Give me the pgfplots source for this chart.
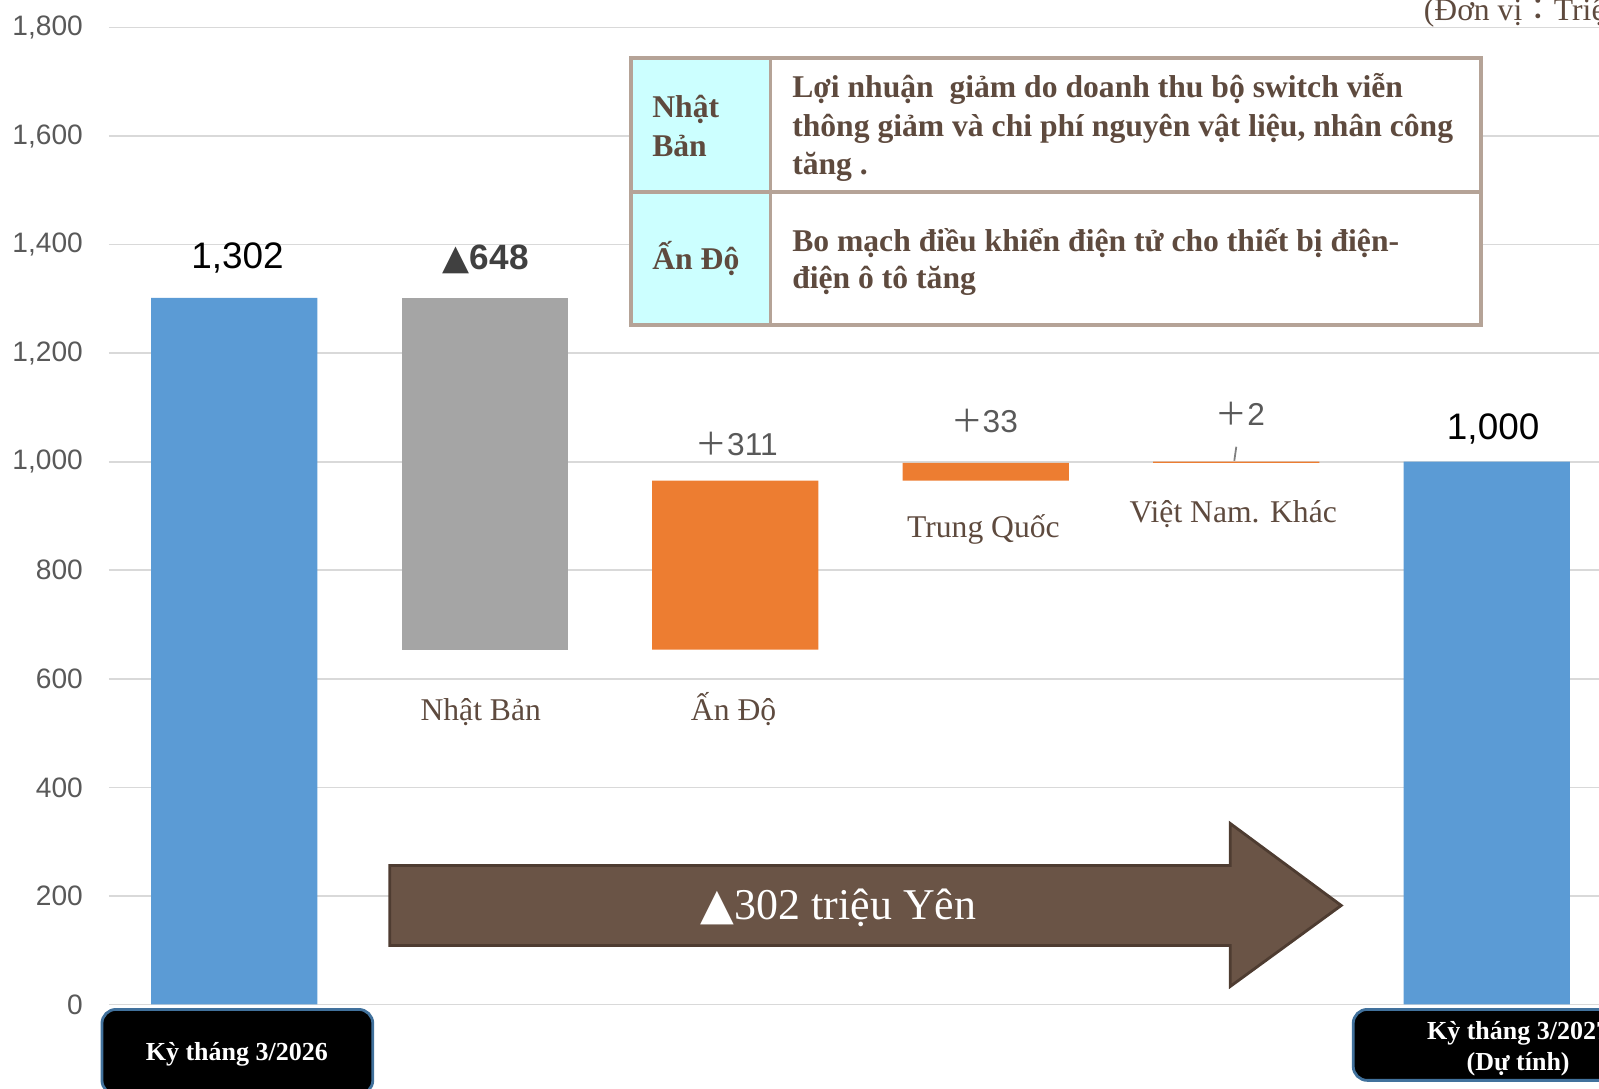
\documentclass[border=0pt]{standalone}
\usepackage{pgfplots}
\pgfplotsset{compat=1.18}
\usepackage{pgfplotstable}
\usepackage{fontspec}
\setmainfont{Liberation Serif}
\newfontfamily\sans{Liberation Sans}
\newfontfamily\dejavu{DejaVu Sans}
\newfontfamily\cjk{Noto Sans CJK JP}
\definecolor{cblue}{HTML}{5B9BD5}
\definecolor{cgray}{HTML}{A5A5A5}
\definecolor{corange}{HTML}{ED7D31}
\definecolor{cbrown}{HTML}{5E4A3E}
\definecolor{cborder}{HTML}{B5A397}
\definecolor{ccyan}{HTML}{CCFFFF}
\definecolor{carrow}{HTML}{6A5446}
\definecolor{carrowd}{HTML}{4E3C31}
\definecolor{cgrid}{HTML}{D9D9D9}
\definecolor{ctick}{HTML}{595959}
\definecolor{cdark}{HTML}{404040}
\definecolor{cboxline}{HTML}{41719C}

\pgfplotstableread{
x base blue gray orange
0 0 1302 0 0
1 654 0 648 0
2 654 0 0 311
3 965 0 0 33
4 998 0 0 2
5 0 1000 0 0
}\wf

\begin{document}
\begin{tikzpicture}
\begin{axis}[
  at={(1.09cm,0.835cm)}, anchor=south west,
  scale only axis, width=15.03cm, height=9.77cm,
  xmin=-0.5, xmax=5.5, ymin=0, ymax=1800,
  ybar stacked, bar width=0.663,
  xtick=\empty, ytick={0,200,...,1800},
  ymajorgrids, grid style={cgrid, line width=0.5pt},
  axis line style={draw=none}, major tick length=0pt,
  yticklabel style={font=\sans\fontsize{8}{9}\selectfont, text=ctick, inner sep=0pt, xshift=-0.255cm},
  /pgf/number format/assume math mode=true,
  /pgf/number format/1000 sep={,},
  clip=false,
]
\addplot[fill=none, draw=none] table[x=x,y=base]{\wf};
\addplot[fill=cblue, draw=none] table[x=x,y=blue]{\wf};
\addplot[fill=cgray, draw=none] table[x=x,y=gray]{\wf};
\addplot[fill=corange, draw=none] table[x=x,y=orange]{\wf};
\end{axis}

\begin{scope}[x=0.01cm, y=-0.01cm, shift={(0cm,10.88cm)}]
% value labels
\node[anchor=base, font=\sans\fontsize{10.5}{12}\selectfont, text=black, inner sep=0pt] at (237.6,269) {1,302};
\node[anchor=base, font=\sans\bfseries\fontsize{10}{12}\selectfont, text=cdark, inner sep=0pt] at (486,270) {{\dejavu\bfseries ▲}648};
\node[anchor=base, font=\sans\fontsize{9}{11}\selectfont, text=ctick, inner sep=0pt] at (737,456) {{\cjk ＋}311};
\node[anchor=base, font=\sans\fontsize{9}{11}\selectfont, text=ctick, inner sep=0pt] at (985,433) {{\cjk ＋}33};
\node[anchor=base, font=\sans\fontsize{9}{11}\selectfont, text=ctick, inner sep=0pt] at (1241,426) {{\cjk ＋}2};
\node[anchor=base, font=\sans\fontsize{10.5}{12}\selectfont, text=black, inner sep=0pt] at (1494,440) {1,000};
\draw[gray, line width=0.5pt] (1237,447) -- (1235,461);

% category labels
\begin{scope}[every node/.style={anchor=base, font=\fontsize{9}{11}\selectfont, text=cbrown, inner sep=0pt}]
\node at (481,721) {Nhật Bản};
\node at (734,721) {Ấn Độ};
\node at (984,538) {Trung Quốc};
\node at (1234,523) {Việt Nam. Khác};
\end{scope}

% unit
\node[anchor=base west, font=\fontsize{9}{11}\selectfont, text=cbrown, inner sep=0pt] at (1424,21) {(Đơn vị{\cjk ：}Triệu Yên)};

% table
\fill[ccyan] (631,58) rectangle (771,325);
\fill[white] (771,58) rectangle (1482,325);
\draw[cborder, line width=1.1pt] (631,58) rectangle (1482,325);
\draw[cborder, line width=1.1pt] (771,58) -- (771,325);
\draw[cborder, line width=1.1pt] (631,192) -- (1482,192);
\begin{scope}[every node/.style={anchor=base west, font=\bfseries\fontsize{9}{11}\selectfont, text=cbrown, inner sep=0pt}]
\node at (652,118) {Nhật};
\node at (652,157) {Bản};
\node at (652,270) {Ấn Độ};
\node at (792,98) {Lợi nhuận\ \ giảm do doanh thu bộ switch viễn};
\node at (792,137) {thông giảm và chi phí nguyên vật liệu, nhân công};
\node at (792,175) {tăng .};
\node at (792,252) {Bo mạch điều khiển điện tử cho thiết bị điện-};
\node at (792,289) {điện ô tô tăng};
\end{scope}

% arrow
\filldraw[fill=carrow, draw=carrowd, line width=0.8pt]
  (390,866) -- (1231,866) -- (1231,824) -- (1342,906) -- (1231,987) -- (1231,946) -- (390,946) -- cycle;
\node[anchor=base, font=\fontsize{12.5}{14}\selectfont, text=white, inner sep=0pt] at (839,920) {{\dejavu ▲}302 triệu Yên};

% bottom boxes
\filldraw[fill=black, draw=cboxline, line width=0.8pt, rounded corners=4pt] (102,1010) rectangle (373,1095);
\node[anchor=base, font=\bfseries\fontsize{7.4}{9}\selectfont, text=white, inner sep=0pt] at (237,1061) {Kỳ tháng 3/2026};
\filldraw[fill=black, draw=cboxline, line width=0.8pt, rounded corners=4pt] (1354,1010) rectangle (1690,1081);
\node[anchor=base, font=\bfseries\fontsize{7.4}{9}\selectfont, text=white, inner sep=0pt] at (1519,1040) {Kỳ tháng 3/2027};
\node[anchor=base, font=\bfseries\fontsize{7.4}{9}\selectfont, text=white, inner sep=0pt] at (1519,1071) {(Dự tính)};
\end{scope}

\pgfresetboundingbox
\path[use as bounding box] (0,0) rectangle (15.99cm,10.88cm);
\end{tikzpicture}
\end{document}
